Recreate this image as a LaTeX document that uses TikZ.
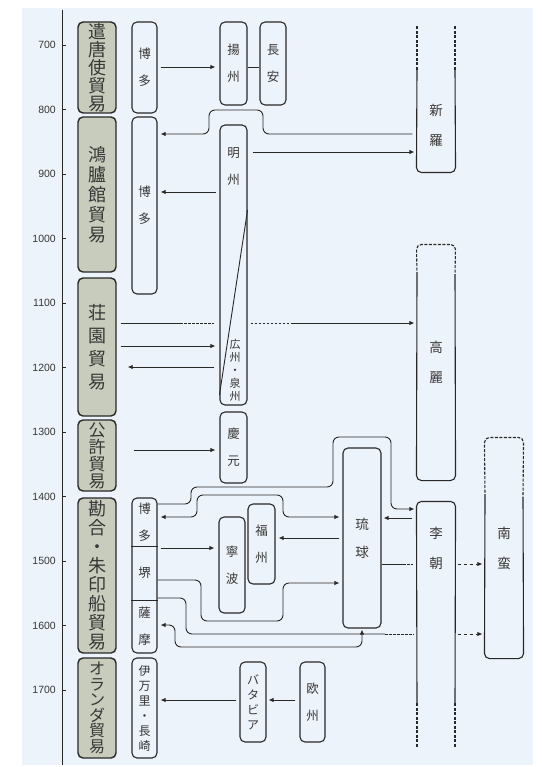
\documentclass[tikz,border=0pt]{standalone}
\usepackage{fontspec}
\newfontfamily\jp{Noto Sans CJK JP}
\newfontfamily\yrfont{Liberation Sans}
\usetikzlibrary{arrows.meta}

\definecolor{bgblue}{RGB}{237,243,250}
\definecolor{catfill}{RGB}{200,204,188}
\definecolor{linecol}{RGB}{40,40,40}
\definecolor{textcol}{RGB}{55,55,55}

\tikzset{
  catbox/.style={draw=linecol, line width=1.4pt, fill=catfill, rounded corners=5pt,
    minimum width=38pt, inner sep=0pt, align=center, text=textcol},
  placebox/.style={draw=linecol, line width=1.1pt, rounded corners=5pt, inner sep=0pt,
    align=center, text=textcol, font=\jp\fontsize{12.5}{27}\selectfont},
  placetext/.style={placebox, draw=none},
  bigtext/.style={placetext, minimum width=38pt, font=\jp\fontsize{13.5}{30}\selectfont},
  boxline/.style={draw=linecol, line width=1.1pt},
  link/.style={draw=linecol, line width=0.9pt},
  arr/.style={link, -{Latex[length=5pt,width=4.5pt]}},
  twoway/.style={link, {Latex[length=5pt,width=4.5pt]}-{Latex[length=5pt,width=4.5pt]}},
  dots/.style={dash pattern=on 2.5pt off 1.5pt},
  dashes/.style={dash pattern=on 3pt off 1.5pt},
  yearlab/.style={anchor=east, inner sep=0pt, text=textcol, font=\yrfont\fontsize{10.5}{12}\selectfont},
}

\begin{document}
\begin{tikzpicture}[x=1pt,y=-1pt]
  \useasboundingbox (0,0) rectangle (541,767);
  \fill[white] (0,0) rectangle (541,767);
  \fill[bgblue] (22,8) rectangle (533,765);

  % time axis
  \draw[link] (62,10) -- (62,765);
  \foreach \yr in {700,800,...,1700} {
    \pgfmathsetmacro{\yy}{45+(\yr-700)*0.645}
    \draw[link] (62,\yy) -- (66,\yy);
    \node[yearlab] (y\yr) at (56,\yy) {\yr};
  }

  % trade periods
  \node[catbox, minimum height=91pt, font=\jp\fontsize{18}{18}\selectfont] (kento) at (97,67.5) {遣\\唐\\使\\貿\\易};
  \node[catbox, minimum height=155pt, font=\jp\fontsize{18}{20}\selectfont] (korokan) at (97,194.5) {鴻\\臚\\館\\貿\\易};
  \node[catbox, minimum height=138pt, font=\jp\fontsize{18}{23}\selectfont] (shoen) at (97,347) {荘\\園\\貿\\易};
  \node[catbox, minimum height=71pt, font=\jp\fontsize{17}{17}\selectfont] (koukyo) at (97,455.5) {公\\許\\貿\\易};
  \node[catbox, minimum height=155pt, font=\jp\fontsize{18}{19}\selectfont] (kango) at (97,575.5) {勘\\合\\・\\朱\\印\\船\\貿\\易};
  \node[catbox, minimum height=100pt, font=\jp\fontsize{16}{15.5}\selectfont] (oranda) at (97,708) {オ\\ラ\\ン\\ダ\\貿\\易};

  % Japanese ports
  \node[placebox, minimum width=25pt, minimum height=91pt] (hakata1) at (144.5,67.5) {博\\多};
  \node[placebox, minimum width=25pt, minimum height=177pt] (hakata2) at (144.5,205.5) {博\\多};
  \node[placebox, minimum width=25pt, minimum height=155pt] (kangocol) at (144.5,575.5) {};
  \node[placetext, minimum width=25pt, minimum height=48pt] (hakata3) at (144.5,522) {博\\多};
  \node[placetext, minimum width=25pt, minimum height=54pt] (sakai) at (144.5,573) {堺};
  \node[placetext, minimum width=25pt, minimum height=53pt] (satsuma) at (144.5,626.5) {薩\\摩};
  \draw[link] (hakata3.south west) -- (hakata3.south east);
  \draw[link] (sakai.south west) -- (sakai.south east);
  \node[placebox, minimum width=25pt, minimum height=100pt, font=\jp\fontsize{12}{15}\selectfont] (imari) at (144.5,708) {伊\\万\\里\\・\\長\\崎};

  % China and the south
  \node[placebox, minimum width=27pt, minimum height=83pt] (yoshu) at (233.5,63.5) {揚\\州};
  \node[placebox, minimum width=26pt, minimum height=83pt] (choan) at (273,63.5) {長\\安};
  \node[placebox, minimum width=27pt, minimum height=280pt] (minshu) at (233.5,265) {};
  \node[placetext] (minshu-a) at (233.5,167) {明\\州};
  \node[placetext, font=\jp\fontsize{11}{13}\selectfont] (koshu) at (235,370) {広\\州\\・\\泉\\州};
  \draw[link] (minshu.east |- 0,210) -- (minshu.west |- 0,395);
  \node[placebox, minimum width=27pt, minimum height=71pt] (keigen) at (233.5,447.5) {慶\\元};
  \node[placebox, minimum width=26pt, minimum height=96pt] (ningpo) at (232,565) {寧\\波};
  \node[placebox, minimum width=27pt, minimum height=80pt] (fukushu) at (261.5,544) {福\\州};
  \node[placebox, minimum width=38pt, minimum height=180pt, font=\jp\fontsize{13.5}{28}\selectfont] (ryukyu) at (362,538) {琉\\球};
  \node[placebox, minimum width=26pt, minimum height=80pt, font=\jp\fontsize{12}{15}\selectfont] (batavia) at (253,702) {バ\\タ\\ビ\\ア};
  \node[placebox, minimum width=25pt, minimum height=80pt] (oshu) at (312.5,702) {欧\\州};

  % Korea and Nanban (open boxes)
  \node[bigtext, minimum height=94pt] (shiragi) at (436,125) {新\\羅};
  \draw[boxline, rounded corners=5pt] (417,70) -- (shiragi.south west) -- (shiragi.south east) -- (455,70);
  \draw[boxline, dashes] (417,70) -- (417,25) (455,70) -- (455,25);
  \node[bigtext, minimum height=235pt] (korai) at (436,362.5) {高\\麗};
  \draw[boxline, dashes, rounded corners=5pt] (417,275) -- (korai.north west) -- (korai.north east) -- (455,275);
  \draw[boxline, rounded corners=5pt] (417,275) -- (korai.south west) -- (korai.south east) -- (455,275);
  \node[bigtext, minimum height=92pt] (richo) at (436,548) {李\\朝};
  \draw[boxline, rounded corners=5pt] (417,703) -- (richo.north west) -- (richo.north east) -- (455,703);
  \draw[boxline, dashes] (417,703) -- (417,748) (455,703) -- (455,748);
  \node[bigtext, minimum height=220pt] (nanban) at (504,548) {南\\蛮};
  \draw[boxline, dashes, rounded corners=5pt] (485,497) -- (nanban.north west) -- (nanban.north east) -- (523,497);
  \draw[boxline, rounded corners=5pt] (485,497) -- (nanban.south west) -- (nanban.south east) -- (523,497);

  % 遣唐使
  \draw[arr, shorten <=3pt, shorten >=4pt] (hakata1.east |- 0,67) -- (yoshu.west |- 0,67);
  \draw[link] (yoshu.east |- 0,67) -- (choan.west |- 0,67);

  % 鴻臚館
  \draw[arr, rounded corners=6pt, shorten <=4pt, shorten >=3pt] (shiragi.west |- 0,134) -- (263,134) -- (263,110) -- (209,110) -- (209,134) -- (hakata2.east |- 0,134);
  \draw[arr, shorten <=5pt, shorten >=2pt] (minshu.east |- 0,152) -- (shiragi.west |- 0,152);
  \draw[arr, shorten <=3pt, shorten >=3pt] (minshu.west |- 0,192) -- (hakata2.east |- 0,192);

  % 荘園
  \coordinate (s1) at (180,323);
  \coordinate (s2) at (293,323);
  \draw[link, shorten <=4pt] (shoen.east |- s1) -- (s1);
  \draw[link, dots, shorten >=5pt] (s1) -- (minshu.west |- s1);
  \draw[link, dots, shorten <=3pt] (minshu.east |- s1) -- (s2);
  \draw[arr, shorten >=2pt] (s2) -- (korai.west |- s2);
  \draw[arr, shorten <=4pt, shorten >=4pt] (shoen.east |- 0,346) -- (minshu.west |- 0,346);
  \draw[arr, shorten <=5pt, shorten >=11pt] (minshu.west |- 0,367) -- (shoen.east |- 0,367);

  % 公許
  \draw[arr, shorten <=17pt, shorten >=4pt] (koukyo.east |- 0,450) -- (keigen.west |- 0,450);

  % 勘合・朱印船
  \draw[arr, rounded corners=6pt, shorten >=2pt] (hakata3.east |- 0,504) -- (191,504) -- (191,487) -- (333,487) -- (333,437) -- (391,437) -- (391,509) -- (richo.west |- 0,509);
  \draw[twoway, rounded corners=6pt, shorten <=3pt, shorten >=3pt] (hakata3.east |- 0,517) -- (197,517) -- (197,495) -- (283,495) -- (283,517) -- (ryukyu.west |- 0,517);
  \draw[arr, shorten <=3pt, shorten >=4pt] (hakata3.east |- 0,548) -- (ningpo.west |- 0,548);
  \draw[arr, shorten <=3pt, shorten >=3pt] (ryukyu.west |- 0,538) -- (fukushu.east |- 0,538);
  \draw[arr, shorten <=4pt, shorten >=2pt] (richo.west |- 0,518) -- (ryukyu.east |- 0,518);
  \coordinate (r1) at (403,564);
  \draw[link] (ryukyu.east |- r1) -- (r1);
  \draw[link, dots, shorten >=3pt] (r1) -- (richo.west |- r1);
  \draw[arr, dashed, shorten <=2pt, shorten >=2pt] (richo.east |- r1) -- (nanban.west |- r1);
  \draw[arr, rounded corners=6pt, shorten >=3pt] (sakai.east |- 0,580) -- (201,580) -- (201,621) -- (283,621) -- (283,583) -- (ryukyu.west |- 0,583);
  \coordinate (k1) at (385,634);
  \draw[link, rounded corners=6pt] (sakai.east |- 0,598) -- (186,598) -- (186,634) -- (k1);
  \draw[link, dots, shorten >=3pt] (k1) -- (richo.west |- k1);
  \draw[arr, dashed, shorten <=2pt, shorten >=2pt] (richo.east |- k1) -- (nanban.west |- k1);
  \draw[twoway, rounded corners=6pt, shorten <=3pt, shorten >=1pt] (satsuma.east |- 0,625) -- (175,625) -- (175,647) -- (ryukyu.south |- 0,647) -- (ryukyu.south);

  % オランダ
  \draw[arr, shorten <=4pt, shorten >=2pt] (oshu.west |- 0,700) -- (batavia.east |- 0,700);
  \draw[arr, shorten <=3pt, shorten >=3pt] (batavia.west |- 0,700) -- (imari.east |- 0,700);
\end{tikzpicture}
\end{document}
